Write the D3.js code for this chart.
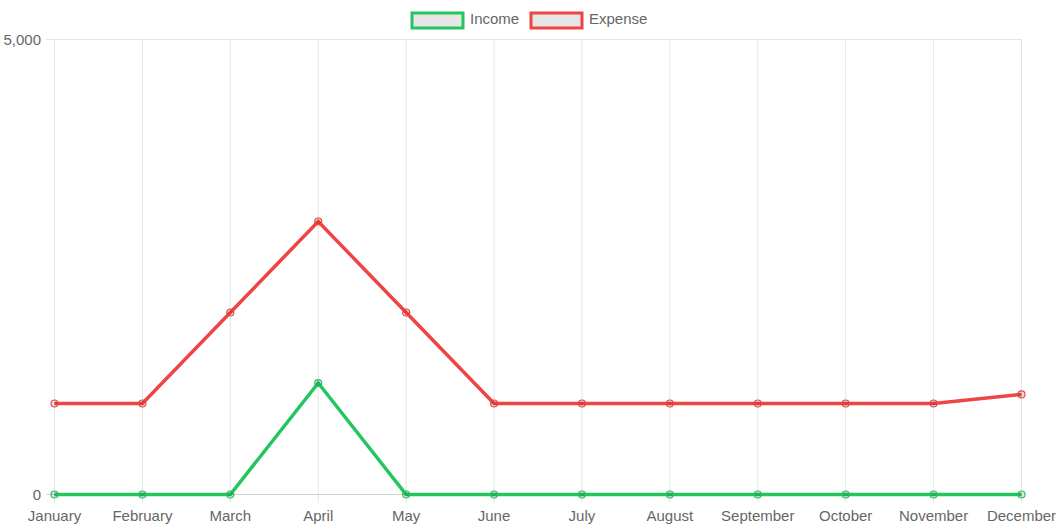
<!DOCTYPE html>
<html><head><meta charset="utf-8">
<script src="https://cdn.jsdelivr.net/npm/d3@7"></script>
<style>html,body{margin:0;padding:0;background:#fff;}svg{display:block;}</style>
</head><body>
<svg id="c" width="1060" height="530"></svg>
<script>
const months = ["January","February","March","April","May","June","July","August","September","October","November","December"];
const income = [0,0,0,1225,0,0,0,0,0,0,0,0];
const expense = [1000,1000,2000,3000,2000,1000,1000,1000,1000,1000,1000,1100];
const yTicks = [0,5000];
const seriesNames = ["Income","Expense"];
const seriesColors = ["#22c55e","#ef4444"];

const svg = d3.select("#c");
const font = "'Liberation Sans', Arial, Helvetica, sans-serif";
const textColor = "#666";
const gridColor = "#e5e5e5";

const x = d3.scalePoint().domain(months).range([54.5, 1021.5]);
const y = d3.scaleLinear().domain([0,5000]).range([494.5, 39.5]);

// vertical grid
const g = svg.append("g");
g.selectAll("line.vg").data(months).join("line")
  .attr("x1", d=>x(d)).attr("x2", d=>x(d))
  .attr("y1", y(5000)).attr("y2", y(0)+8)
  .attr("stroke", gridColor).attr("stroke-width",1);
// horizontal grid
g.selectAll("line.hg").data(yTicks).join("line")
  .attr("x1", x(months[0])-8).attr("x2", x(months[months.length-1]))
  .attr("y1", d=>y(d)).attr("y2", d=>y(d))
  .attr("stroke", d=> d===0 ? "#d0d0d0" : gridColor).attr("stroke-width",1);

// y labels
g.selectAll("text.yl").data(yTicks).join("text")
  .attr("x", 41).attr("y", d=>y(d)).attr("dy","0.35em")
  .attr("text-anchor","end").attr("fill",textColor)
  .attr("font-family",font).attr("font-size",15)
  .text(d=>d3.format(",")(d));

// x labels
g.selectAll("text.xl").data(months).join("text")
  .attr("x", d=>x(d)).attr("y", 516).attr("dy","0.35em")
  .attr("text-anchor","middle").attr("fill",textColor)
  .attr("font-family",font).attr("font-size",15)
  .text(d=>d);

const data = [income, expense];
const line = d3.line().x((d,i)=>x(months[i])).y(d=>y(d));
[1,0].forEach(si=>{
  const vals = data[si];
  svg.append("path").datum(vals)
    .attr("d", line).attr("fill","none")
    .attr("stroke", seriesColors[si]).attr("stroke-width",3.5)
    .attr("stroke-linejoin","miter");
  svg.append("g").selectAll("circle").data(vals).join("circle")
    .attr("cx",(d,i)=>x(months[i])).attr("cy",d=>y(d)).attr("r",3.5)
    .attr("fill","rgba(0,0,0,0.1)").attr("stroke",seriesColors[si]).attr("stroke-width",1.2);
});

// legend
const legend = [
  {name: seriesNames[0], color: seriesColors[0], bx: 412, tx: 470},
  {name: seriesNames[1], color: seriesColors[1], bx: 531, tx: 589}
];
const lg = svg.append("g");
legend.forEach(l=>{
  lg.append("rect").attr("x", l.bx).attr("y", 13).attr("width", 51).attr("height", 15)
    .attr("fill","#e6e6e6").attr("stroke", l.color).attr("stroke-width",3);
  lg.append("text").attr("x", l.tx).attr("y", 19).attr("dy","0.35em")
    .attr("fill",textColor).attr("font-family",font).attr("font-size",15).text(l.name);
});
</script>
</body></html>
